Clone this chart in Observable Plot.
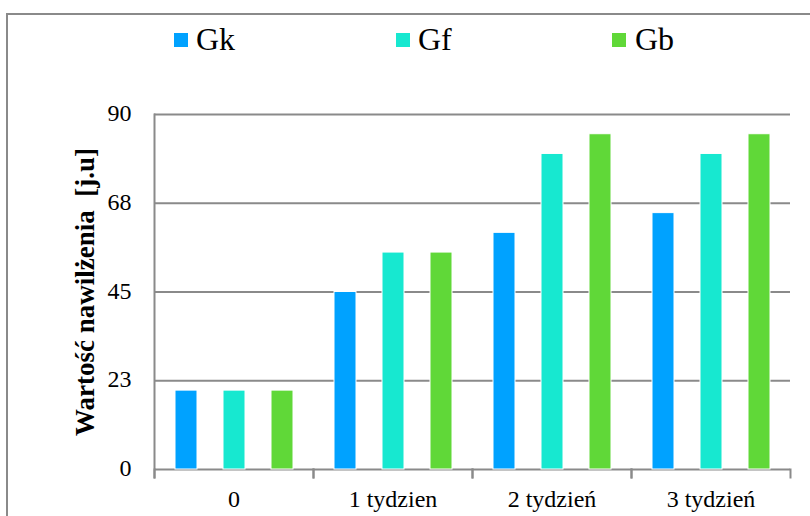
<!DOCTYPE html>
<html><head><meta charset="utf-8">
<script src="https://cdn.jsdelivr.net/npm/d3@7"></script>
<script src="https://cdn.jsdelivr.net/npm/@observablehq/plot@0.6"></script>
<style>
html,body{margin:0;padding:0;background:#fff;overflow:hidden}
#wrap{position:relative;width:810px;height:516px;overflow:hidden;font-family:'Liberation Serif','Times New Roman',serif}
#frame{position:absolute;left:6px;top:13px;width:900px;height:600px;border:2px solid #8a8a8a;box-sizing:border-box;pointer-events:none;z-index:5}
#legend{position:relative;height:70px}
.sw{position:absolute;top:33px;width:14px;height:14px}
.lt{position:absolute;top:23px;font-size:32px;line-height:32px;color:#000;white-space:nowrap}
</style></head><body><div id="wrap"><div id="frame"></div><div id="legend"></div><div id="chart"></div></div>
<script>
const categories = ["0", "1 tydzien", "2 tydzień", "3 tydzień"];
const series = ["Gk", "Gf", "Gb"];
const Gk = [20, 45, 60, 65];
const Gf = [20, 55, 80, 80];
const Gb = [20, 55, 85, 85];
const yTicks = [0, 22.5, 45, 67.5, 90];
const yTickLabels = ["0", "23", "45", "68", "90"];
const yTitle = "Wartość nawilżenia  [j.u]";
const colors = ["#00a2ff", "#17e8d0", "#60d838"];

const values = [Gk, Gf, Gb];
const rows = categories.flatMap((c, i) => series.map((s, j) => ({category: c, series: s, value: values[j][i]})));

const serifFont = "'Liberation Serif', 'Times New Roman', serif";

// legend
const legend = document.getElementById("legend");
const legendPos = [[174, 196], [396, 418], [612, 635]];
series.forEach((s, j) => {
  const sw = document.createElement("div");
  sw.className = "sw"; sw.style.left = legendPos[j][0] + "px"; sw.style.background = colors[j];
  const t = document.createElement("div");
  t.className = "lt"; t.style.left = legendPos[j][1] + "px"; t.textContent = s;
  legend.appendChild(sw); legend.appendChild(t);
});

const gray = "#8a8a8a";
const chart = Plot.plot({
  width: 810, height: 446,
  marginTop: 44, marginBottom: 47, marginLeft: 153, marginRight: 20,
  style: {fontFamily: serifFont, background: "transparent", color: "#000"},
  fx: {domain: categories, padding: 0},
  x: {domain: series, paddingInner: 0.55, paddingOuter: 0.4, axis: null},
  y: {domain: [0, 90]},
  color: {domain: series, range: colors},
  marks: [
    Plot.ruleY(yTicks, {stroke: gray, strokeWidth: 2}),
    Plot.frame({anchor: "left", facet: "super", stroke: gray, strokeWidth: 2, insetBottom: -8}),
    Plot.frame({anchor: "left", stroke: gray, strokeWidth: 2, insetTop: 355, insetBottom: -8}),
    Plot.frame({anchor: "right", stroke: gray, strokeWidth: 2, insetTop: 355, insetBottom: -8}),
    Plot.barY(rows, {fx: "category", x: "series", y: "value", fill: "series", stroke: "white", strokeWidth: 1}),
    Plot.axisY(yTicks, {tickSize: 0, tickPadding: 23, fontSize: 24, dy: -1, label: null,
      tickFormat: d => yTickLabels[yTicks.indexOf(d)]}),
    Plot.axisFx({anchor: "bottom", tickSize: 0, tickPadding: 20, fontSize: 24, label: null}),
    Plot.text([yTitle], {text: d => d, frameAnchor: "left", facet: "super", rotate: -90, dx: -69,
      fontWeight: "bold", fontSize: 27, textAnchor: "middle", lineAnchor: "middle"})
  ]
});
document.getElementById("chart").appendChild(chart);
</script>
</body></html>
